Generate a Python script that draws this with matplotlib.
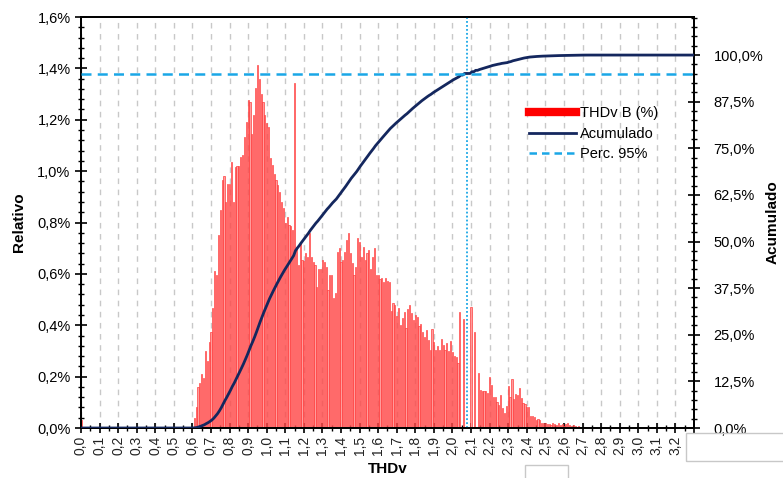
import numpy as np
import matplotlib
matplotlib.use('Agg')
import matplotlib.pyplot as plt
from matplotlib.lines import Line2D
from matplotlib.patches import Rectangle
from matplotlib.ticker import FuncFormatter, MultipleLocator

plt.rcParams['font.family'] = ['Liberation Sans', 'DejaVu Sans']

# relative frequency (%) per 0.01 bin of THDv, first bin at 0.00, then 0.61 .. 2.74
zero_bin = 0.03
rel_values = [
    # 0.61 - 0.70
    0.04, 0.08, 0.16, 0.175, 0.21, 0.196, 0.30, 0.26, 0.336, 0.375,
    # 0.71 - 0.80
    0.467, 0.61, 0.595, 0.75, 0.85, 0.965, 0.98, 0.88, 0.95, 0.95,
    # 0.81 - 0.90
    1.034, 0.88, 1.017, 1.02, 1.02, 1.054, 1.063, 1.134, 1.19, 1.277,
    # 0.91 - 1.00
    1.27, 1.143, 1.218, 1.322, 1.413, 1.36, 1.30, 1.27, 1.218, 1.186,
    # 1.01 - 1.10
    1.173, 1.05, 1.024, 0.99, 0.965, 0.946, 0.92, 0.88, 0.855, 0.797,
    # 1.11 - 1.19
    0.82, 0.79, 0.786, 0.77, 1.343, 0.706, 0.634, 0.719, 0.654,
    # 1.20 - 1.64
    0.65, 0.68, 0.664, 0.758, 0.664, 0.647, 0.634, 0.55, 0.62, 0.62,
    0.654, 0.647, 0.628, 0.537, 0.596, 0.596, 0.505, 0.524, 0.686, 0.70,
    0.647, 0.654, 0.686, 0.732, 0.758, 0.68, 0.641, 0.596, 0.628, 0.738,
    0.725, 0.667, 0.706, 0.654, 0.68, 0.693, 0.62, 0.667, 0.70, 0.596,
    0.596, 0.579, 0.583, 0.57, 0.583,
    # 1.65 - 2.03
    0.573, 0.57, 0.455, 0.485, 0.479, 0.437, 0.466, 0.40, 0.427, 0.453,
    0.388, 0.462, 0.479, 0.446, 0.42, 0.44, 0.433, 0.397, 0.405, 0.375,
    0.353, 0.381, 0.343, 0.304, 0.384, 0.336, 0.304, 0.319, 0.304, 0.345,
    0.323, 0.304, 0.33, 0.30, 0.339, 0.296, 0.28, 0.277, 0.252,
    # 2.04 - 2.14
    0.452, 0.0, 0.425, 0.0, 0.0, 0.0, 0.472, 0.0, 0.372, 0.0, 0.213,
    # 2.15 - 2.49
    0.148, 0.145, 0.145, 0.145, 0.135, 0.2, 0.167, 0.122, 0.122, 0.102,
    0.09, 0.128, 0.077, 0.06, 0.086, 0.163, 0.122, 0.19, 0.112, 0.132,
    0.13, 0.157, 0.116, 0.096, 0.093, 0.083, 0.083, 0.047, 0.047, 0.044,
    0.031, 0.035, 0.031, 0.02, 0.02,
    # 2.50 - 2.74
    0.02, 0.016, 0.016, 0.012, 0.02, 0.016, 0.012, 0.02, 0.012, 0.016,
    0.008, 0.016, 0.02, 0.012, 0.008, 0.012, 0.008, 0.004, 0.008, 0.004,
    0.0, 0.004, 0.0, 0.004, 0.0,
]
p95 = 2.08

thdv = np.concatenate([[0.0], np.round(0.61 + 0.01 * np.arange(len(rel_values)), 2)])
rel = np.concatenate([[zero_bin], rel_values])
cum = np.cumsum(rel) / rel.sum() * 100

fig = plt.figure(figsize=(7.83, 4.78), dpi=100)
ax = fig.add_axes([0.1034, 0.1046, 0.7829, 0.8598])
ax2 = ax.twinx()

ax.bar(thdv, rel, width=0.0062, color='#ff9c9c', edgecolor='#ff3030', linewidth=0.45, zorder=2)

# cumulative curve on right axis
cx = np.concatenate([[0.0, 0.6], thdv[1:] + 0.005, [3.3]])
cy = np.concatenate([[0.0, 0.0], cum[1:], [100.0]])
ax2.plot(cx, cy, color='#14275e', lw=2, zorder=3)
ax2.axhline(95, color='#1aa7e6', lw=1.8, ls=(0, (4, 2.5)), zorder=4)
ax.axvline(p95, color='#1aa7e6', lw=1.3, ls=(0, (1, 1.2)), zorder=4)

ax.set_xlim(0, 3.3)
ax.set_ylim(0, 1.6)
ax2.set_ylim(0, 110.2)

ax.xaxis.set_major_locator(MultipleLocator(0.1))
ax.xaxis.set_minor_locator(MultipleLocator(0.05))
ax.yaxis.set_major_locator(MultipleLocator(0.2))
ax.yaxis.set_minor_locator(MultipleLocator(0.04))
ax2.yaxis.set_major_locator(MultipleLocator(12.5))
ax2.yaxis.set_minor_locator(MultipleLocator(2.5))

ax.xaxis.set_major_formatter(FuncFormatter(lambda v, p: f'{v:.1f}'.replace('.', ',') if v < 3.25 else ''))
ax.yaxis.set_major_formatter(FuncFormatter(lambda v, p: f'{v:.1f}%'.replace('.', ',')))
ax2.yaxis.set_major_formatter(FuncFormatter(lambda v, p: f'{v:.1f}%'.replace('.', ',') if v <= 100 else ''))

ax.grid(axis='x', which='major', color='#c8c8c8', ls=(0, (4, 4)), lw=1)
ax.set_axisbelow(True)

ax.tick_params(axis='x', which='major', direction='inout', length=7, width=1.2, labelsize=10, labelrotation=90, pad=2)
ax.tick_params(axis='x', which='minor', direction='inout', length=4, width=1)
ax.tick_params(axis='y', which='major', direction='inout', length=8, width=1.2, labelsize=10.5)
ax.tick_params(axis='y', which='minor', direction='inout', length=4, width=1)
ax2.tick_params(axis='y', which='major', direction='inout', length=8, width=1.2, labelsize=10.5, pad=10)
ax2.tick_params(axis='y', which='minor', direction='inout', length=4, width=1)
for a in (ax, ax2):
    for s in a.spines.values():
        s.set_linewidth(1.3)
for t in ax.get_xticklabels():
    t.set_color('#222222')

ax.set_xlabel('THDv', fontsize=11, fontweight='bold', labelpad=5)
ax.set_ylabel('Relativo', fontsize=11, fontweight='bold', labelpad=8)
ax2.set_ylabel('Acumulado', fontsize=11, fontweight='bold', labelpad=2)

handles = [
    Line2D([], [], color='#ff0000', lw=6),
    Line2D([], [], color='#14275e', lw=2),
    Line2D([], [], color='#1aa7e6', lw=1.8, ls=(0, (3, 2))),
]
ax2.legend(handles, ['THDv B (%)', 'Acumulado', 'Perc. 95%'], loc='upper left',
           bbox_to_anchor=(0.668, 0.79), bbox_transform=fig.transFigure,
           frameon=False, fontsize=10.5, handlelength=3.2, handletextpad=0.3,
           labelspacing=0.45, borderaxespad=0)

# leftover cell borders from the source sheet
fig.patches.append(Rectangle((686 / 783, 1 - 461 / 478), 0.2, 28 / 478, transform=fig.transFigure,
                             fill=False, edgecolor='#c8c8c8', lw=1))
fig.patches.append(Rectangle((525 / 783, 1 - 490 / 478), 43 / 783, 25 / 478, transform=fig.transFigure,
                             fill=False, edgecolor='#c8c8c8', lw=1))

fig.savefig('out.png', dpi=100)
